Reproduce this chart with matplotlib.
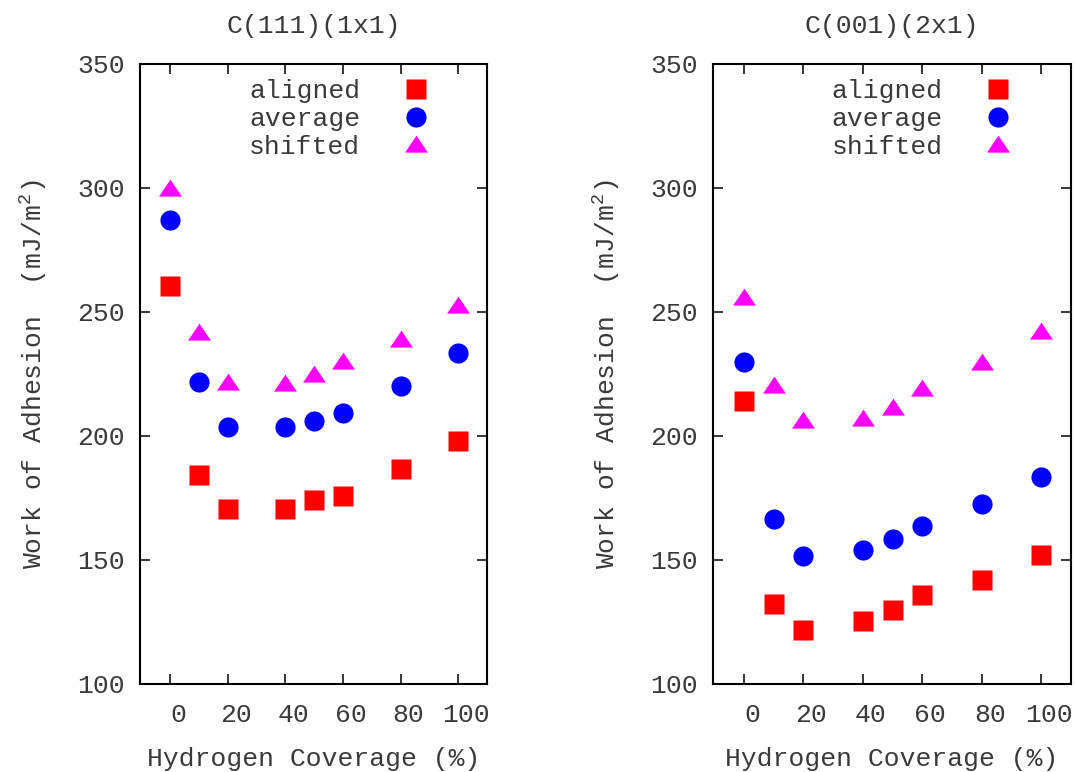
import matplotlib
matplotlib.use('Agg')
import matplotlib.pyplot as plt
import matplotlib.transforms as mtransforms
from matplotlib.path import Path

# hydrogen coverage (%)
coverage = [0, 10, 20, 40, 50, 60, 80, 100]

# C(111)(1x1)
aligned_111 = [260.6, 184.4, 170.7, 170.7, 174.2, 175.9, 186.7, 198.0]
average_111 = [287.1, 221.9, 203.8, 203.5, 206.2, 209.1, 220.3, 233.3]
shifted_111 = [299.6, 241.5, 221.5, 221.0, 224.6, 229.8, 238.7, 252.4]

# C(001)(2x1)
aligned_001 = [214.2, 132.3, 121.8, 125.3, 129.8, 135.9, 141.9, 152.0]
average_001 = [229.7, 166.4, 151.7, 153.9, 158.3, 163.7, 172.5, 183.6]
shifted_001 = [255.8, 220.2, 206.0, 206.7, 211.2, 218.8, 229.3, 241.8]

titles = ['C(111)(1x1)', 'C(001)(2x1)']
xticks = [0, 20, 40, 60, 80, 100]
yticks = [100, 150, 200, 250, 300, 350]

FONT = 'Liberation Mono'
TXT = '#3a3a3a'
FS = 19

plt.rcParams['font.family'] = FONT
plt.rcParams['text.color'] = TXT
plt.rcParams['axes.labelcolor'] = TXT
plt.rcParams['xtick.color'] = 'black'
plt.rcParams['ytick.color'] = 'black'
plt.rcParams['xtick.labelcolor'] = TXT
plt.rcParams['ytick.labelcolor'] = TXT
plt.rcParams['mathtext.fontset'] = 'custom'
plt.rcParams['mathtext.rm'] = FONT

# flattened gnuplot-style triangle
tri = Path([(-1, -0.62), (1, -0.62), (0, 0.86), (-1, -0.62)],
           [Path.MOVETO, Path.LINETO, Path.LINETO, Path.CLOSEPOLY])

fig = plt.figure(figsize=(10.75, 7.72), dpi=100)
positions = [[0.1302, 0.1140, 0.3228, 0.8031],
             [0.6633, 0.1140, 0.3330, 0.8031]]
datasets = [(aligned_111, average_111, shifted_111),
            (aligned_001, average_001, shifted_001)]

for pos, title, (al, av, sh) in zip(positions, titles, datasets):
    ax = fig.add_axes(pos)
    ax.plot(coverage, al, 's', color='#ff0000', ms=14.5, mec='none', label='aligned')
    ax.plot(coverage, av, 'o', color='#0000ff', ms=14.5, mec='none', label='average')
    ax.plot(coverage, sh, marker=tri, ls='none', color='#ff00ff', ms=16.5,
            mec='none', label='shifted')

    ax.set_xlim(-10.4, 110)
    ax.set_ylim(100, 350)
    ax.set_xticks(xticks)
    ax.set_yticks(yticks)
    ax.tick_params(direction='in', length=7, width=1.1, top=True, right=True,
                   labelsize=FS)
    ax.tick_params(axis='y', pad=11)
    ax.tick_params(axis='x', pad=14)
    offset = mtransforms.ScaledTranslation(8 / 100, 0, fig.dpi_scale_trans)
    for lab in ax.get_xticklabels():
        lab.set_transform(lab.get_transform() + offset)
    for sp in ax.spines.values():
        sp.set_linewidth(1.5)

    ax.set_title(title, fontsize=FS, pad=22)
    ax.set_xlabel('Hydrogen Coverage (%)', fontsize=FS, labelpad=14)
    ax.set_ylabel('Work of Adhesion  (mJ/m$^2$)', fontsize=FS, labelpad=20)

    ax.legend(loc='upper right', bbox_to_anchor=(0.878, 0.997), frameon=False,
              markerfirst=False, numpoints=1, fontsize=FS, borderpad=0,
              handlelength=1.2, handletextpad=1.5, labelspacing=0.16)

fig.savefig('out.png', dpi=100)
